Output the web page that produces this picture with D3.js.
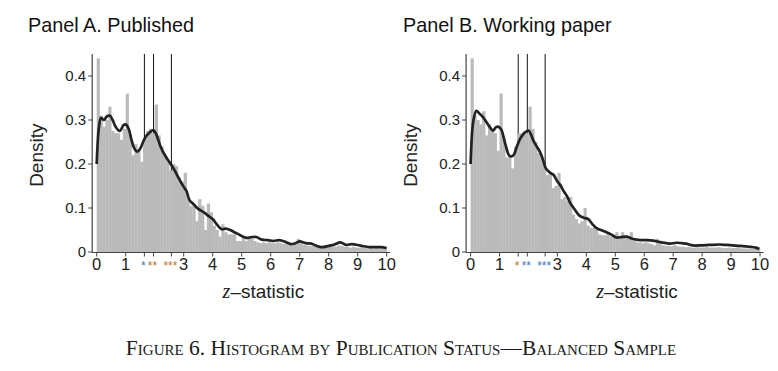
<!DOCTYPE html>
<html>
<head>
<meta charset="utf-8">
<script src="https://cdn.jsdelivr.net/npm/d3@7"></script>
<style>
  body { margin: 0; background: #fff; }
  svg { display: block; font-family: "Liberation Sans", Arial, sans-serif; }
  .tick-label { font-size: 15px; fill: #222; }
  .x-label { font-size: 16.5px; fill: #222; }
  .panel-title { font-size: 19.8px; fill: #111; }
  .axis-title { font-size: 19px; fill: #222; }
  .caption { font-family: "Liberation Serif", "Times New Roman", serif; font-size: 21.5px; font-variant: small-caps; fill: #1a1a1a; }
</style>
</head>
<body>
<div id="chart"></div>
<script>
// histogram bins, width 0.1, starting at z = 0
const binStart = d3.range(0, 10, 0.1);

const publishedBins = [
  0.44, 0.31, 0.285, 0.30, 0.33, 0.275, 0.27, 0.27, 0.255, 0.28,
  0.36, 0.265, 0.22, 0.245, 0.23, 0.205, 0.26, 0.275, 0.28, 0.27,
  0.335, 0.265, 0.24, 0.22, 0.205, 0.185, 0.20, 0.195, 0.17, 0.16,
  0.18, 0.12, 0.105, 0.105, 0.07, 0.12, 0.105, 0.05, 0.11, 0.09,
  0.06, 0.05, 0.035, 0.063, 0.045, 0.04, 0.04, 0.04, 0.025, 0.025,
  0.035, 0.025, 0.03, 0.03, 0.025, 0.022, 0.02, 0.022, 0.02, 0.022,
  0.02, 0.02, 0.022, 0.02, 0.018, 0.02, 0.016, 0.015, 0.018, 0.03,
  0.02, 0.016, 0.015, 0.014, 0.014, 0.013, 0.01, 0.01, 0.012, 0.012,
  0.015, 0.014, 0.012, 0.015, 0.014, 0.012, 0.012, 0.01, 0.012, 0.01,
  0.01, 0.01, 0.009, 0.008, 0.009, 0.008, 0.009, 0.008, 0.008, 0.007
];

const workingBins = [
  0.44, 0.31, 0.30, 0.29, 0.32, 0.265, 0.29, 0.275, 0.27, 0.23,
  0.36, 0.26, 0.215, 0.22, 0.19, 0.24, 0.27, 0.27, 0.275, 0.27,
  0.33, 0.28, 0.25, 0.225, 0.215, 0.20, 0.175, 0.18, 0.145, 0.15,
  0.18, 0.12, 0.125, 0.115, 0.125, 0.085, 0.075, 0.065, 0.07, 0.10,
  0.06, 0.055, 0.055, 0.05, 0.04, 0.038, 0.038, 0.045, 0.035, 0.04,
  0.045, 0.035, 0.045, 0.035, 0.03, 0.045, 0.025, 0.022, 0.022, 0.02,
  0.022, 0.02, 0.018, 0.015, 0.03, 0.018, 0.015, 0.014, 0.014, 0.013,
  0.016, 0.013, 0.012, 0.012, 0.011, 0.011, 0.01, 0.01, 0.011, 0.01,
  0.01, 0.011, 0.01, 0.01, 0.01, 0.011, 0.01, 0.009, 0.009, 0.01,
  0.009, 0.009, 0.01, 0.008, 0.008, 0.008, 0.008, 0.007, 0.007, 0.006
];

// kernel density curves
const publishedDensityZ = [0, 0.08, 0.15, 0.25, 0.35, 0.45, 0.55, 0.65, 0.8, 0.92, 1.0, 1.1, 1.2, 1.3, 1.4, 1.5, 1.6, 1.7, 1.8, 1.95,
  2.05, 2.2, 2.35, 2.5, 2.65, 2.85, 3.0, 3.1, 3.2, 3.35, 3.5, 3.7, 3.85, 4.0, 4.15, 4.3, 4.45, 4.6, 4.75, 4.95,
  5.15, 5.35, 5.5, 5.7, 5.9, 6.1, 6.3, 6.5, 6.7, 6.85, 7.0, 7.2, 7.4, 7.55, 7.75, 8.0, 8.2, 8.4, 8.6, 8.8,
  9.0, 9.2, 9.4, 9.6, 9.8, 10];
const publishedDensity = [0.20, 0.285, 0.305, 0.30, 0.308, 0.31, 0.30, 0.285, 0.275, 0.288, 0.29, 0.28, 0.255, 0.235, 0.228, 0.235, 0.25, 0.263, 0.27, 0.277,
  0.268, 0.24, 0.22, 0.205, 0.19, 0.165, 0.148, 0.138, 0.118, 0.108, 0.098, 0.09, 0.082, 0.075, 0.062, 0.052, 0.053, 0.05, 0.045, 0.038,
  0.032, 0.034, 0.034, 0.028, 0.027, 0.025, 0.027, 0.023, 0.018, 0.02, 0.024, 0.02, 0.019, 0.015, 0.011, 0.014, 0.017, 0.022, 0.016, 0.018,
  0.016, 0.013, 0.011, 0.011, 0.011, 0.009];

const workingDensityZ = [0, 0.1, 0.2, 0.3, 0.42, 0.55, 0.65, 0.77, 0.87, 0.95, 1.06, 1.2, 1.35, 1.48, 1.6, 1.71, 1.85, 2.0, 2.1, 2.17,
  2.3, 2.4, 2.5, 2.6, 2.75, 2.87, 3.0, 3.1, 3.2, 3.33, 3.42, 3.56, 3.77, 3.95, 4.06, 4.2, 4.35, 4.5, 4.69, 4.85,
  5.04, 5.2, 5.38, 5.55, 5.72, 5.9, 6.07, 6.3, 6.5, 6.76, 6.9, 7.1, 7.3, 7.45, 7.68, 7.95, 8.26, 8.6, 8.85, 9.06,
  9.3, 9.64, 9.85, 9.98];
const workingDensity = [0.20, 0.30, 0.321, 0.315, 0.307, 0.295, 0.285, 0.276, 0.283, 0.285, 0.278, 0.245, 0.218, 0.22, 0.24, 0.257, 0.27, 0.276, 0.265, 0.253,
  0.238, 0.227, 0.21, 0.19, 0.18, 0.175, 0.16, 0.152, 0.14, 0.127, 0.114, 0.1, 0.082, 0.077, 0.075, 0.064, 0.054, 0.05, 0.045, 0.04,
  0.033, 0.034, 0.035, 0.031, 0.028, 0.027, 0.027, 0.026, 0.023, 0.02, 0.019, 0.021, 0.02, 0.019, 0.015, 0.015, 0.016, 0.017, 0.016, 0.015,
  0.014, 0.012, 0.01, 0.007];

// critical values and their star labels
const criticalZ = [1.645, 1.96, 2.576];
const starLabels = ['*', '**', '***'];
const xTicks = [0, 1, 3, 4, 5, 6, 7, 8, 9, 10];
const yTicks = [0, 0.1, 0.2, 0.3, 0.4];

const BLUE = '#3f78b4';
const ORANGE = '#b8742c';

class HistogramPanel {
    constructor(_config, _bins, _densZ, _dens) {
        this.config = _config;
        this.bins = binStart.map((z, i) => ({ z0: z, z1: z + 0.1, value: _bins[i] }));
        this.density = _densZ.map((z, i) => ({ z: z, value: _dens[i] }));
        this.initVis();
    }

    initVis() {
        let vis = this;
        const c = vis.config;

        vis.xScale = d3.scaleLinear().domain([0, 10]).range([c.x0, c.x10]);
        vis.yScale = d3.scaleLinear().domain([0, 0.45]).range([c.base, c.base - 0.45 * 440]);

        vis.g = c.svg.append('g');

        // panel title
        vis.g.append('text')
            .attr('class', 'panel-title')
            .attr('x', c.titleX)
            .attr('y', 32)
            .text(c.title);

        // critical value lines, drawn under the bars
        vis.g.selectAll('.crit')
            .data(criticalZ)
            .join('line')
            .attr('class', 'crit')
            .attr('x1', d => vis.xScale(d))
            .attr('x2', d => vis.xScale(d))
            .attr('y1', vis.yScale(0.45))
            .attr('y2', vis.yScale(0))
            .attr('stroke', '#111')
            .attr('stroke-width', 1);

        vis.renderVis();
    }

    renderVis() {
        let vis = this;
        const c = vis.config;

        vis.g.selectAll('.bar')
            .data(vis.bins)
            .join('rect')
            .attr('class', 'bar')
            .attr('x', d => vis.xScale(d.z0))
            .attr('width', d => vis.xScale(d.z1) - vis.xScale(d.z0) + 0.3)
            .attr('y', d => vis.yScale(d.value))
            .attr('height', d => vis.yScale(0) - vis.yScale(d.value))
            .attr('fill', '#bababa');

        const line = d3.line()
            .x(d => vis.xScale(d.z))
            .y(d => vis.yScale(d.value))
            .curve(d3.curveCatmullRom);

        vis.g.append('path')
            .datum(vis.density)
            .attr('d', line)
            .attr('fill', 'none')
            .attr('stroke', '#222')
            .attr('stroke-width', 2.7)
            .attr('stroke-linejoin', 'round');

        // axis lines
        const axisLeft = c.x0 - 4.5;
        vis.g.append('line')
            .attr('x1', axisLeft).attr('x2', axisLeft)
            .attr('y1', vis.yScale(0.45)).attr('y2', c.base + 0.5)
            .attr('stroke', '#444').attr('stroke-width', 1.2);
        vis.g.append('line')
            .attr('x1', axisLeft).attr('x2', vis.xScale(10) + 3.5)
            .attr('y1', c.base + 0.5).attr('y2', c.base + 0.5)
            .attr('stroke', '#444').attr('stroke-width', 1.2);

        // y ticks
        vis.g.selectAll('.ytick')
            .data(yTicks)
            .join('line')
            .attr('class', 'ytick')
            .attr('x1', axisLeft - 4).attr('x2', axisLeft)
            .attr('y1', d => vis.yScale(d)).attr('y2', d => vis.yScale(d))
            .attr('stroke', '#444');
        vis.g.selectAll('.ylab')
            .data(yTicks)
            .join('text')
            .attr('class', 'tick-label')
            .attr('x', axisLeft - 6)
            .attr('y', d => vis.yScale(d))
            .attr('dy', '0.36em')
            .attr('text-anchor', 'end')
            .text(d => d === 0 ? '0' : d3.format('.1f')(d));

        // x ticks, integers plus critical values
        const allTicks = xTicks.concat(criticalZ);
        vis.g.selectAll('.xtick')
            .data(allTicks)
            .join('line')
            .attr('class', 'xtick')
            .attr('x1', d => vis.xScale(d)).attr('x2', d => vis.xScale(d))
            .attr('y1', c.base + 0.5).attr('y2', c.base + 4.5)
            .attr('stroke', '#444');
        vis.g.selectAll('.xlab')
            .data(xTicks)
            .join('text')
            .attr('class', 'x-label')
            .attr('x', d => vis.xScale(d))
            .attr('y', c.base + 17.5)
            .attr('text-anchor', 'middle')
            .text(d => d);
        vis.g.selectAll('.star')
            .data(criticalZ)
            .join('text')
            .attr('x', d => vis.xScale(d) - 1)
            .attr('y', c.base + 17.5)
            .attr('text-anchor', 'middle')
            .attr('font-size', 12)
            .attr('fill', (d, i) => c.starColors[i])
            .text((d, i) => starLabels[i]);

        // axis titles
        vis.g.append('text')
            .attr('class', 'axis-title')
            .attr('transform', `translate(${c.x0 - 54},${vis.yScale(0.22)}) rotate(-90)`)
            .attr('text-anchor', 'middle')
            .text('Density');

        const xt = vis.g.append('text')
            .attr('class', 'axis-title')
            .attr('x', vis.xScale(5.75))
            .attr('y', c.base + 46)
            .attr('text-anchor', 'middle');
        xt.append('tspan')
            .attr('font-family', '"Liberation Serif", "Times New Roman", serif')
            .attr('font-style', 'italic')
            .attr('font-size', 20)
            .text('z');
        xt.append('tspan').text('–statistic');
    }
}

const svg = d3.select('#chart')
    .append('svg')
    .attr('width', 778)
    .attr('height', 371);

svg.append('rect').attr('width', 778).attr('height', 371).attr('fill', '#fff');

new HistogramPanel({
    svg: svg, title: 'Panel A. Published', titleX: 28,
    x0: 96.7, x10: 386.7, base: 252,
    starColors: [BLUE, ORANGE, ORANGE]
}, publishedBins, publishedDensityZ, publishedDensity);

new HistogramPanel({
    svg: svg, title: 'Panel B. Working paper', titleX: 403,
    x0: 470.6, x10: 760, base: 252,
    starColors: [ORANGE, BLUE, BLUE]
}, workingBins, workingDensityZ, workingDensity);

svg.append('text')
    .attr('class', 'caption')
    .attr('x', 401)
    .attr('y', 355)
    .attr('text-anchor', 'middle')
    .text('Figure 6. Histogram by Publication Status—Balanced Sample');
</script>
</body>
</html>
